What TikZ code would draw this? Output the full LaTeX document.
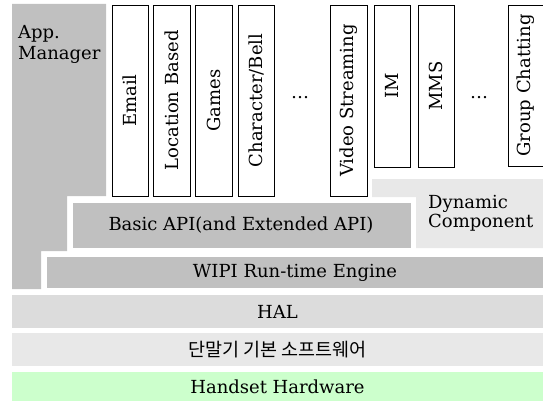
\documentclass[tikz,border=0pt]{standalone}
\usepackage{fontspec}
\setmainfont{DejaVu Serif}
\newfontfamily\krfont{Noto Sans CJK KR}
\definecolor{midgray}{RGB}{192,192,192}
\definecolor{halgray}{RGB}{220,220,220}
\definecolor{lightgray2}{RGB}{232,232,232}
\definecolor{hwgreen}{RGB}{204,255,204}
\begin{document}
\begin{tikzpicture}[x=1pt,y=-1pt,
  txt/.style={inner sep=0pt, font=\fontsize{18}{21}\selectfont},
  vtxt/.style={txt, rotate=90},
  colbox/.style={draw=black, line width=0.9pt, fill=white},
  dots/.style={inner sep=0pt, font=\fontsize{18}{21}\selectfont}]
\useasboundingbox (0,0) rectangle (543,401);
\clip (0,0) rectangle (543,401);
% App manager polygon
\fill[midgray] (12,4) -- (106,4) -- (106,196) -- (67,196) -- (67,251) -- (41,251) -- (41,289) -- (12,289) -- cycle;
\node[txt, anchor=north west, align=left] (appmgr) at (18,25) {App.\\Manager};
% Dynamic component polygon
\fill[lightgray2] (372,179) -- (545,179) -- (545,248) -- (416,248) -- (416,197) -- (372,197) -- cycle;
\node[txt, anchor=north west, align=left, font=\fontsize{18}{19}\selectfont] (dyn) at (428,195) {Dynamic\\Component};
% Basic API
\fill[midgray] (73,203) rectangle (411,248);
\node[txt] (basic) at (241,225.5) {Basic API(and Extended API)};
% WIPI
\fill[midgray] (47,257) rectangle (545,288);
\node[txt] (wipi) at (295,272.5) {WIPI Run-time Engine};
% HAL
\fill[halgray] (12,295) rectangle (545,328);
\node[txt] (hal) at (277.5,311.5) {HAL};
% Korean band
\fill[lightgray2] (12,333) rectangle (545,366);
\node[txt, font=\fontsize{18.5}{21}\selectfont] (kr) at (277.5,349.5) {\krfont 단말기 기본 소프트웨어};
% Hardware
\fill[hwgreen] (12,372) rectangle (545,401);
\node[txt] (hw) at (277.5,386.5) {Handset Hardware};
% vertical application boxes
\draw[colbox] (112,5) rectangle (148,196);
\node[vtxt] (email) at (130,100.5) {Email};
\draw[colbox] (153,5) rectangle (190,196);
\node[vtxt] (loc) at (171.5,100.5) {Location Based};
\draw[colbox] (195,5) rectangle (232,196);
\node[vtxt] (games) at (213.5,100.5) {Games};
\draw[colbox] (238,5) rectangle (274,196);
\node[vtxt] (charbell) at (256,100.5) {Character/Bell};
\node[dots] (dots1) at (300,98) {\ldots};
\draw[colbox] (330,5) rectangle (367,196);
\node[vtxt] (video) at (348.5,100.5) {Video Streaming};
\draw[colbox] (374,5) rectangle (410,167);
\node[vtxt] (im) at (392,86) {IM};
\draw[colbox] (418,5) rectangle (454,167);
\node[vtxt] (mms) at (436,86) {MMS};
\node[dots] (dots2) at (479,98) {\ldots};
\draw[colbox] (508,5) rectangle (548,166);
\node[vtxt] (group) at (526,85.5) {Group Chatting};
\end{tikzpicture}
\end{document}
